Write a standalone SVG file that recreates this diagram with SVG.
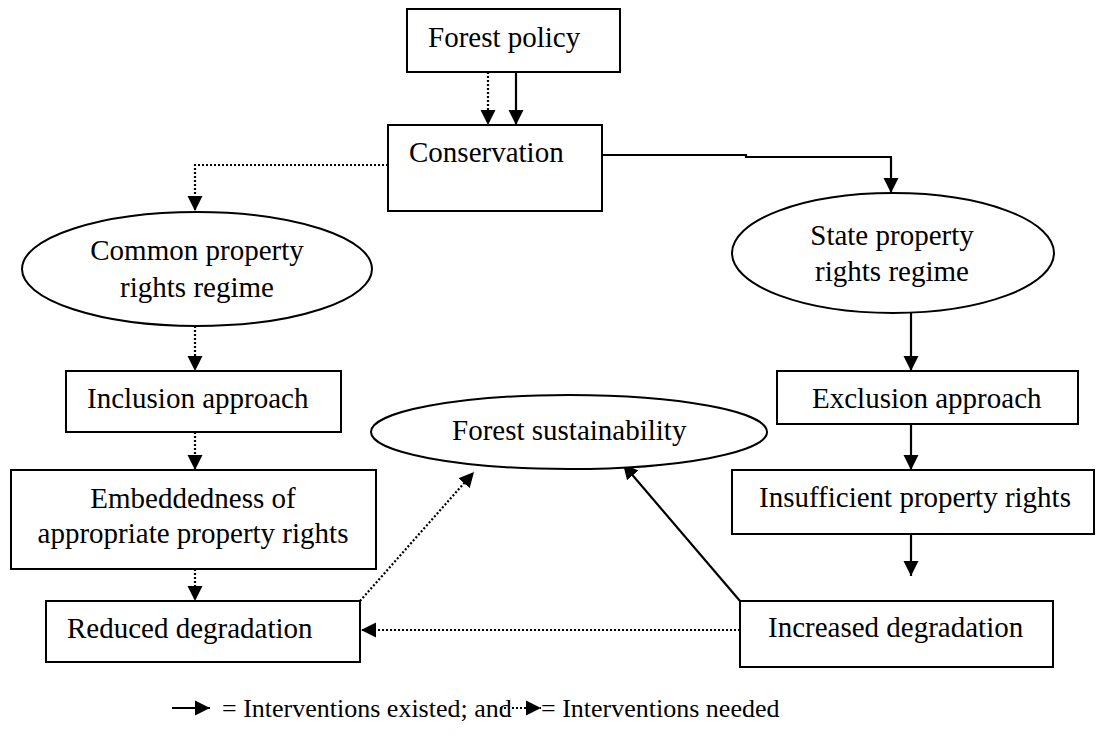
<svg xmlns="http://www.w3.org/2000/svg" width="1097" height="753" viewBox="0 0 1097 753">
<style>
.box{fill:#fff;stroke:#000;stroke-width:2}
.t{font-family:"Liberation Serif","Times New Roman",serif;font-size:29px;fill:#000}
.lg{font-family:"Liberation Serif","Times New Roman",serif;font-size:26px;fill:#000}
.solid{fill:none;stroke:#000;stroke-width:2.2;marker-end:url(#ah)}
.dot{fill:none;stroke:#000;stroke-width:2.2;stroke-dasharray:2 2;marker-end:url(#ah)}
</style>
<defs>
<marker id="ah" markerUnits="userSpaceOnUse" markerWidth="16" markerHeight="16" viewBox="0 0 16 16" refX="15" refY="8" orient="auto">
<path d="M0 0.5 L15 8 L0 15.5 Z" fill="#000"/>
</marker>
</defs>
<rect width="1097" height="753" fill="#fff"/>
<g id="connectors">
<path class="dot" d="M488 72 V125"/>
<path class="solid" d="M516 72 V125"/>
<path class="dot" d="M388 165 H195 V211"/>
<path class="solid" d="M602 155 H746 V157 H891 V193"/>
<path class="dot" d="M195 326 V371"/>
<path class="dot" d="M195 432 V470"/>
<path class="dot" d="M195 569 V601"/>
<path class="solid" d="M911 313 V371"/>
<path class="solid" d="M911 424 V470"/>
<path class="solid" d="M911 534 V576"/>
<path class="dot" d="M360 601 L474 472"/>
<path class="solid" d="M740 601 L623 464"/>
<path class="dot" d="M740 630 H361"/>
</g>
<g id="forest-policy"><rect class="box" x="407" y="9" width="213" height="63"/><text class="t" x="428" y="47">Forest policy</text></g>
<g id="conservation"><rect class="box" x="388" y="125" width="214" height="86"/><text class="t" x="409" y="162">Conservation</text></g>
<g id="common-property"><ellipse class="box" cx="197" cy="269" rx="175" ry="57"/><text class="t" x="197" y="260" text-anchor="middle">Common property</text><text class="t" x="197" y="297" text-anchor="middle">rights regime</text></g>
<g id="state-property"><ellipse class="box" cx="893" cy="253" rx="161" ry="60"/><text class="t" x="892" y="245" text-anchor="middle">State property</text><text class="t" x="892" y="281" text-anchor="middle">rights regime</text></g>
<g id="inclusion"><rect class="box" x="66" y="371" width="275" height="61"/><text class="t" x="87" y="408">Inclusion approach</text></g>
<g id="exclusion"><rect class="box" x="777" y="371" width="301" height="53"/><text class="t" x="812" y="408">Exclusion approach</text></g>
<g id="sustainability"><ellipse class="box" cx="569" cy="432" rx="198" ry="37"/><text class="t" x="452" y="440">Forest sustainability</text></g>
<g id="embeddedness"><rect class="box" x="11" y="470" width="365" height="99"/><text class="t" x="193" y="508" text-anchor="middle">Embeddedness of</text><text class="t" x="193" y="543" text-anchor="middle">appropriate property rights</text></g>
<g id="insufficient"><rect class="box" x="732" y="470" width="362" height="64"/><text class="t" x="759" y="507">Insufficient property rights</text></g>
<g id="reduced"><rect class="box" x="46" y="601" width="314" height="61"/><text class="t" x="67" y="638">Reduced degradation</text></g>
<g id="increased"><rect class="box" x="740" y="601" width="313" height="66"/><text class="t" x="768" y="637">Increased degradation</text></g>
<g id="legend">
<path class="solid" d="M172 708 H210"/>
<text class="lg" x="222" y="717">= Interventions existed; and</text>
<path class="dot" d="M500 708 H541"/>
<text class="lg" x="541" y="717">= Interventions needed</text>
</g>
</svg>
